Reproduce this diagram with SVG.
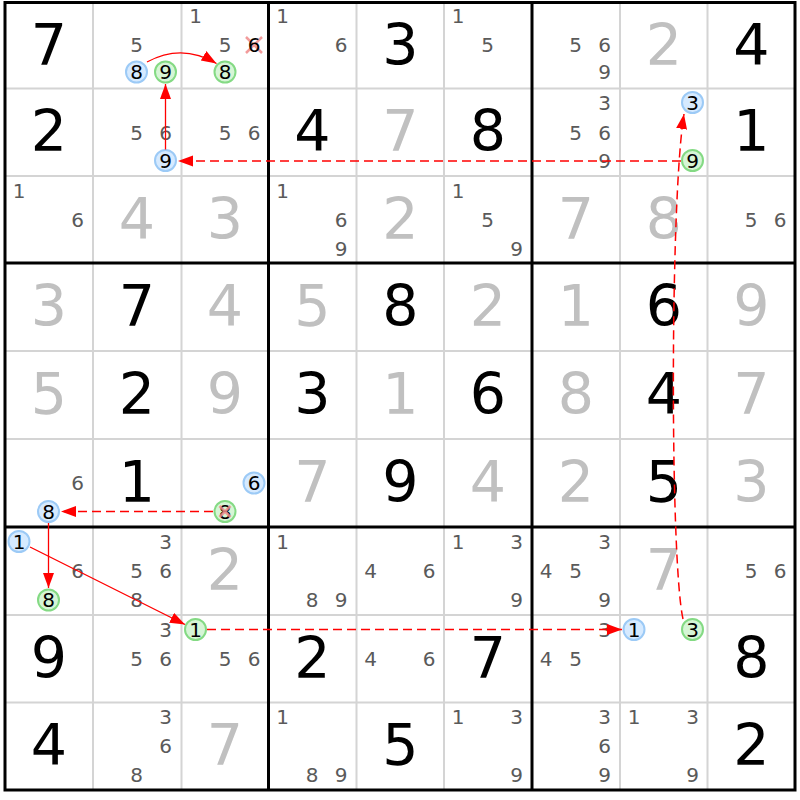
<svg xmlns="http://www.w3.org/2000/svg" width="800" height="800" viewBox="0 0 800 800">
<style>
.thin{stroke:#d4d4d4;stroke-width:2;fill:none}
.thick{stroke:#000;stroke-width:3;fill:none}
.big{font-family:"DejaVu Sans",Verdana,sans-serif;font-size:57px;text-anchor:middle}
.k{fill:#000}
.s{fill:#c0c0c0}
.c{font-family:"DejaVu Sans",Verdana,sans-serif;font-size:20px;text-anchor:middle;fill:#5a5a5a}
.cb{font-family:"DejaVu Sans",Verdana,sans-serif;font-size:20px;text-anchor:middle;fill:#000}
.bl{fill:#d6eaff;stroke:#9ccaf6;stroke-width:2}
.gr{fill:#d6f5d6;stroke:#84da84;stroke-width:2}
.x{stroke:#f08a8a;stroke-width:2.5;stroke-opacity:0.85}
.ln{stroke:#ff0000;stroke-width:1.3;fill:none}
.dl{stroke:#ff0000;stroke-width:1.5;fill:none;stroke-dasharray:9 5}
</style>
<defs>
<marker id="ah" markerUnits="userSpaceOnUse" markerWidth="16" markerHeight="12" refX="15" refY="5.5" orient="auto">
<path d="M0,0 L15,5.5 L0,11 z" fill="#ff0000"/>
</marker>
</defs>
<rect x="0" y="0" width="800" height="800" fill="#fff"/>
<g id="grid">
<path class="thin" d="M93,2.5V790M181.5,2.5V790M356.5,2.5V790M444,2.5V790M620,2.5V790M707.5,2.5V790M5,88.5H795M5,176H795M5,351H795M5,439H795M5,615H795M5,702.5H795"/>
<path class="thick" d="M268.5,2.5V790M532,2.5V790M5,263H795M5,527H795"/>
<rect class="thick" x="5" y="2.5" width="790" height="787.5"/>
</g>
<g id="r1c1"><text class="big k" x="49" y="64.5">7</text></g>
<g id="r1c2"><text class="c" x="136.5" y="52">5</text><circle class="bl" cx="136.5" cy="72" r="10.5"/><text class="cb" x="136.5" y="79">8</text><circle class="gr" cx="165.5" cy="72" r="10.5"/><text class="cb" x="165.5" y="79">9</text></g>
<g id="r1c3"><text class="c" x="195.5" y="22.5">1</text><text class="c" x="225" y="52">5</text><path class="x" d="M246,37L262,53M262,37L246,53"/><text class="cb" x="254" y="52">6</text><circle class="gr" cx="225" cy="72" r="10.5"/><text class="cb" x="225" y="79">8</text></g>
<g id="r1c4"><text class="c" x="282.5" y="22.5">1</text><text class="c" x="341" y="52">6</text></g>
<g id="r1c5"><text class="big k" x="400.5" y="64.5">3</text></g>
<g id="r1c6"><text class="c" x="458" y="22.5">1</text><text class="c" x="487.5" y="52">5</text></g>
<g id="r1c7"><text class="c" x="575.5" y="52">5</text><text class="c" x="604.5" y="52">6</text><text class="c" x="604.5" y="79">9</text></g>
<g id="r1c8"><text class="big s" x="664" y="64.5">2</text></g>
<g id="r1c9"><text class="big k" x="751.5" y="64.5">4</text></g>
<g id="r2c1"><text class="big k" x="49" y="150.5">2</text></g>
<g id="r2c2"><text class="c" x="136.5" y="139.5">5</text><text class="c" x="165.5" y="139.5">6</text><circle class="bl" cx="165.5" cy="160.5" r="10.5"/><text class="cb" x="165.5" y="167.5">9</text></g>
<g id="r2c3"><text class="c" x="225" y="139.5">5</text><text class="c" x="254" y="139.5">6</text></g>
<g id="r2c4"><text class="big k" x="312.5" y="150.5">4</text></g>
<g id="r2c5"><text class="big s" x="400.5" y="150.5">7</text></g>
<g id="r2c6"><text class="big k" x="488" y="150.5">8</text></g>
<g id="r2c7"><text class="c" x="604.5" y="109.5">3</text><text class="c" x="575.5" y="139.5">5</text><text class="c" x="604.5" y="139.5">6</text><text class="c" x="604.5" y="167.5">9</text></g>
<g id="r2c8"><circle class="bl" cx="692.5" cy="102.5" r="10.5"/><text class="cb" x="692.5" y="109.5">3</text><circle class="gr" cx="692.5" cy="160.5" r="10.5"/><text class="cb" x="692.5" y="167.5">9</text></g>
<g id="r2c9"><text class="big k" x="751.5" y="150.5">1</text></g>
<g id="r3c1"><text class="c" x="19" y="197.5">1</text><text class="c" x="77.5" y="226.5">6</text></g>
<g id="r3c2"><text class="big s" x="137" y="238.5">4</text></g>
<g id="r3c3"><text class="big s" x="225" y="238.5">3</text></g>
<g id="r3c4"><text class="c" x="282.5" y="197.5">1</text><text class="c" x="341" y="226.5">6</text><text class="c" x="341" y="256">9</text></g>
<g id="r3c5"><text class="big s" x="400.5" y="238.5">2</text></g>
<g id="r3c6"><text class="c" x="458" y="197.5">1</text><text class="c" x="487.5" y="226.5">5</text><text class="c" x="516.5" y="256">9</text></g>
<g id="r3c7"><text class="big s" x="576" y="238.5">7</text></g>
<g id="r3c8"><text class="big s" x="664" y="238.5">8</text></g>
<g id="r3c9"><text class="c" x="751" y="226.5">5</text><text class="c" x="780" y="226.5">6</text></g>
<g id="r4">
<text class="big s" x="49" y="325.5">3</text><text class="big k" x="137" y="325.5">7</text><text class="big s" x="225" y="325.5">4</text><text class="big s" x="312.5" y="325.5">5</text><text class="big k" x="400.5" y="325.5">8</text><text class="big s" x="488" y="325.5">2</text><text class="big s" x="576" y="325.5">1</text><text class="big k" x="664" y="325.5">6</text><text class="big s" x="751.5" y="325.5">9</text>
</g>
<g id="r5">
<text class="big s" x="49" y="413.5">5</text><text class="big k" x="137" y="413.5">2</text><text class="big s" x="225" y="413.5">9</text><text class="big k" x="312.5" y="413.5">3</text><text class="big s" x="400.5" y="413.5">1</text><text class="big k" x="488" y="413.5">6</text><text class="big s" x="576" y="413.5">8</text><text class="big k" x="664" y="413.5">4</text><text class="big s" x="751.5" y="413.5">7</text>
</g>
<g id="r6c1"><text class="c" x="77.5" y="490">6</text><circle class="bl" cx="48.5" cy="511.5" r="10.5"/><text class="cb" x="48.5" y="518.5">8</text></g>
<g id="r6c2"><text class="big k" x="137" y="502">1</text></g>
<g id="r6c3"><circle class="bl" cx="254" cy="483" r="10.5"/><text class="cb" x="254" y="490">6</text><circle class="gr" cx="225" cy="511.5" r="10.5"/><text class="cb" x="225" y="518.5">8</text><path class="x" d="M219.5,506L230.5,517M230.5,506L219.5,517" stroke-opacity="0.6"/></g>
<g id="r6c4"><text class="big s" x="312.5" y="502">7</text></g>
<g id="r6c5"><text class="big k" x="400.5" y="502">9</text></g>
<g id="r6c6"><text class="big s" x="488" y="502">4</text></g>
<g id="r6c7"><text class="big s" x="576" y="502">2</text></g>
<g id="r6c8"><text class="big k" x="664" y="502">5</text></g>
<g id="r6c9"><text class="big s" x="751.5" y="502">3</text></g>
<g id="r7c1"><circle class="bl" cx="19" cy="541.5" r="10.5"/><text class="cb" x="19" y="548.5">1</text><text class="c" x="77.5" y="577.5">6</text><circle class="gr" cx="48.5" cy="600" r="10.5"/><text class="cb" x="48.5" y="607">8</text></g>
<g id="r7c2"><text class="c" x="165.5" y="548.5">3</text><text class="c" x="136.5" y="577.5">5</text><text class="c" x="165.5" y="577.5">6</text><text class="c" x="136.5" y="607">8</text></g>
<g id="r7c3"><text class="big s" x="225" y="589.5">2</text></g>
<g id="r7c4"><text class="c" x="282.5" y="548.5">1</text><text class="c" x="312" y="607">8</text><text class="c" x="341" y="607">9</text></g>
<g id="r7c5"><text class="c" x="370.5" y="577.5">4</text><text class="c" x="429" y="577.5">6</text></g>
<g id="r7c6"><text class="c" x="458" y="548.5">1</text><text class="c" x="516.5" y="548.5">3</text><text class="c" x="516.5" y="607">9</text></g>
<g id="r7c7"><text class="c" x="604.5" y="548.5">3</text><text class="c" x="546" y="577.5">4</text><text class="c" x="575.5" y="577.5">5</text><text class="c" x="604.5" y="607">9</text></g>
<g id="r7c8"><text class="big s" x="664" y="589.5">7</text></g>
<g id="r7c9"><text class="c" x="751" y="577.5">5</text><text class="c" x="780" y="577.5">6</text></g>
<g id="r8c1"><text class="big k" x="49" y="677.5">9</text></g>
<g id="r8c2"><text class="c" x="165.5" y="636.5">3</text><text class="c" x="136.5" y="665.5">5</text><text class="c" x="165.5" y="665.5">6</text></g>
<g id="r8c3"><circle class="gr" cx="195.5" cy="629.5" r="10.5"/><text class="cb" x="195.5" y="636.5">1</text><text class="c" x="225" y="665.5">5</text><text class="c" x="254" y="665.5">6</text></g>
<g id="r8c4"><text class="big k" x="312.5" y="677.5">2</text></g>
<g id="r8c5"><text class="c" x="370.5" y="665.5">4</text><text class="c" x="429" y="665.5">6</text></g>
<g id="r8c6"><text class="big k" x="488" y="677.5">7</text></g>
<g id="r8c7"><text class="c" x="604.5" y="636.5">3</text><text class="c" x="546" y="665.5">4</text><text class="c" x="575.5" y="665.5">5</text></g>
<g id="r8c8"><circle class="bl" cx="634" cy="629.5" r="10.5"/><text class="cb" x="634" y="636.5">1</text><circle class="gr" cx="692.5" cy="629.5" r="10.5"/><text class="cb" x="692.5" y="636.5">3</text></g>
<g id="r8c9"><text class="big k" x="751.5" y="677.5">8</text></g>
<g id="r9c1"><text class="big k" x="49" y="765">4</text></g>
<g id="r9c2"><text class="c" x="165.5" y="724">3</text><text class="c" x="165.5" y="753">6</text><text class="c" x="136.5" y="782">8</text></g>
<g id="r9c3"><text class="big s" x="225" y="765">7</text></g>
<g id="r9c4"><text class="c" x="282.5" y="724">1</text><text class="c" x="312" y="782">8</text><text class="c" x="341" y="782">9</text></g>
<g id="r9c5"><text class="big k" x="400.5" y="765">5</text></g>
<g id="r9c6"><text class="c" x="458" y="724">1</text><text class="c" x="516.5" y="724">3</text><text class="c" x="516.5" y="782">9</text></g>
<g id="r9c7"><text class="c" x="604.5" y="724">3</text><text class="c" x="604.5" y="753">6</text><text class="c" x="604.5" y="782">9</text></g>
<g id="r9c8"><text class="c" x="634" y="724">1</text><text class="c" x="692.5" y="724">3</text><text class="c" x="692.5" y="782">9</text></g>
<g id="r9c9"><text class="big k" x="751.5" y="765">2</text></g>
<g id="links">
<path class="ln" d="M147,62 Q182,43 216.5,63.5" marker-end="url(#ah)"/>
<path class="ln" d="M165.5,149.5 V84" marker-end="url(#ah)"/>
<path class="dl" d="M681,161 H178" marker-end="url(#ah)"/>
<path class="dl" d="M683,619 C670,560 670,200 684,114" marker-end="url(#ah)"/>
<path class="dl" d="M207,629.5 H622" marker-end="url(#ah)"/>
<path class="ln" d="M30,547 L185,624.5" marker-end="url(#ah)"/>
<path class="ln" d="M48.5,523 V588" marker-end="url(#ah)"/>
<path class="dl" d="M213,511.5 H61" marker-end="url(#ah)"/>
</g>
</svg>
